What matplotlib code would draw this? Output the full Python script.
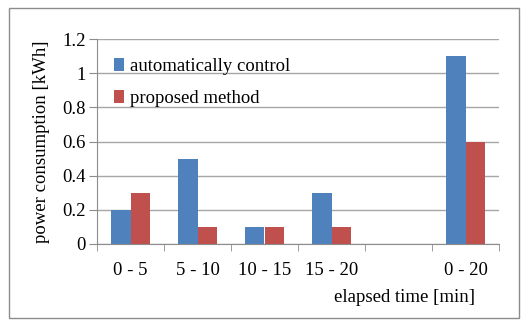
import matplotlib.pyplot as plt
import matplotlib.patches as mpatches
import numpy as np

categories = ["0 - 5", "5 - 10", "10 - 15", "15 - 20", "", "0 - 20"]
auto_control = [0.2, 0.5, 0.1, 0.3, np.nan, 1.1]
proposed = [0.3, 0.1, 0.1, 0.1, np.nan, 0.6]

blue = "#4F81BD"
red = "#C0504D"

plt.rcParams['font.family'] = ['Liberation Serif', 'DejaVu Serif']
fs = 13.5

fig = plt.figure(figsize=(5.28, 3.26), dpi=100)
fig.patches.append(mpatches.Rectangle((9 / 528, 8 / 326), 510 / 528, 310 / 326,
                                      transform=fig.transFigure, fill=False,
                                      edgecolor="#8c8c8c", linewidth=1))
ax = fig.add_axes([97 / 528, 82 / 326, 402 / 528, 205 / 326])

x = np.arange(len(categories))
w = 0.285
ax.bar(x - w / 2, auto_control, w, color=blue, label="automatically control", zorder=3)
ax.bar(x + w / 2, proposed, w, color=red, label="proposed method", zorder=3)

ax.set_xlim(-0.5, len(categories) - 0.5)
ax.set_ylim(0, 1.2)
ax.set_yticks(np.arange(0, 1.21, 0.2))
ax.set_yticklabels(["0", "0.2", "0.4", "0.6", "0.8", "1", "1.2"])
ax.yaxis.grid(True, color="#a6a6a6", linewidth=1, zorder=0)

ax.set_xticks(x)
ax.set_xticklabels(categories)
ax.set_xticks(np.arange(-0.5, len(categories)), minor=True)
ax.tick_params(axis="x", which="major", length=0, pad=13, labelsize=fs)
ax.tick_params(axis="x", which="minor", length=5, color="#8c8c8c", direction="out")
ax.tick_params(axis="y", length=6, color="#8c8c8c", pad=2, labelsize=fs)

for side in ["top", "right"]:
    ax.spines[side].set_visible(False)
for side in ["left", "bottom"]:
    ax.spines[side].set_color("#8c8c8c")

ax.set_ylabel("power consumption [kWh]", fontsize=fs, labelpad=9)
fig.text(475 / 528, 1 - 298 / 326, "elapsed time [min]", ha="right", va="center", fontsize=fs)

ax.legend(loc="upper left", bbox_to_anchor=(0.0, 0.99), frameon=False,
          prop={"family": ["Liberation Serif"], "size": fs},
          handlelength=0.55, handleheight=0.7, handletextpad=0.3, labelspacing=0.8)

fig.savefig("out.png", dpi=100)
